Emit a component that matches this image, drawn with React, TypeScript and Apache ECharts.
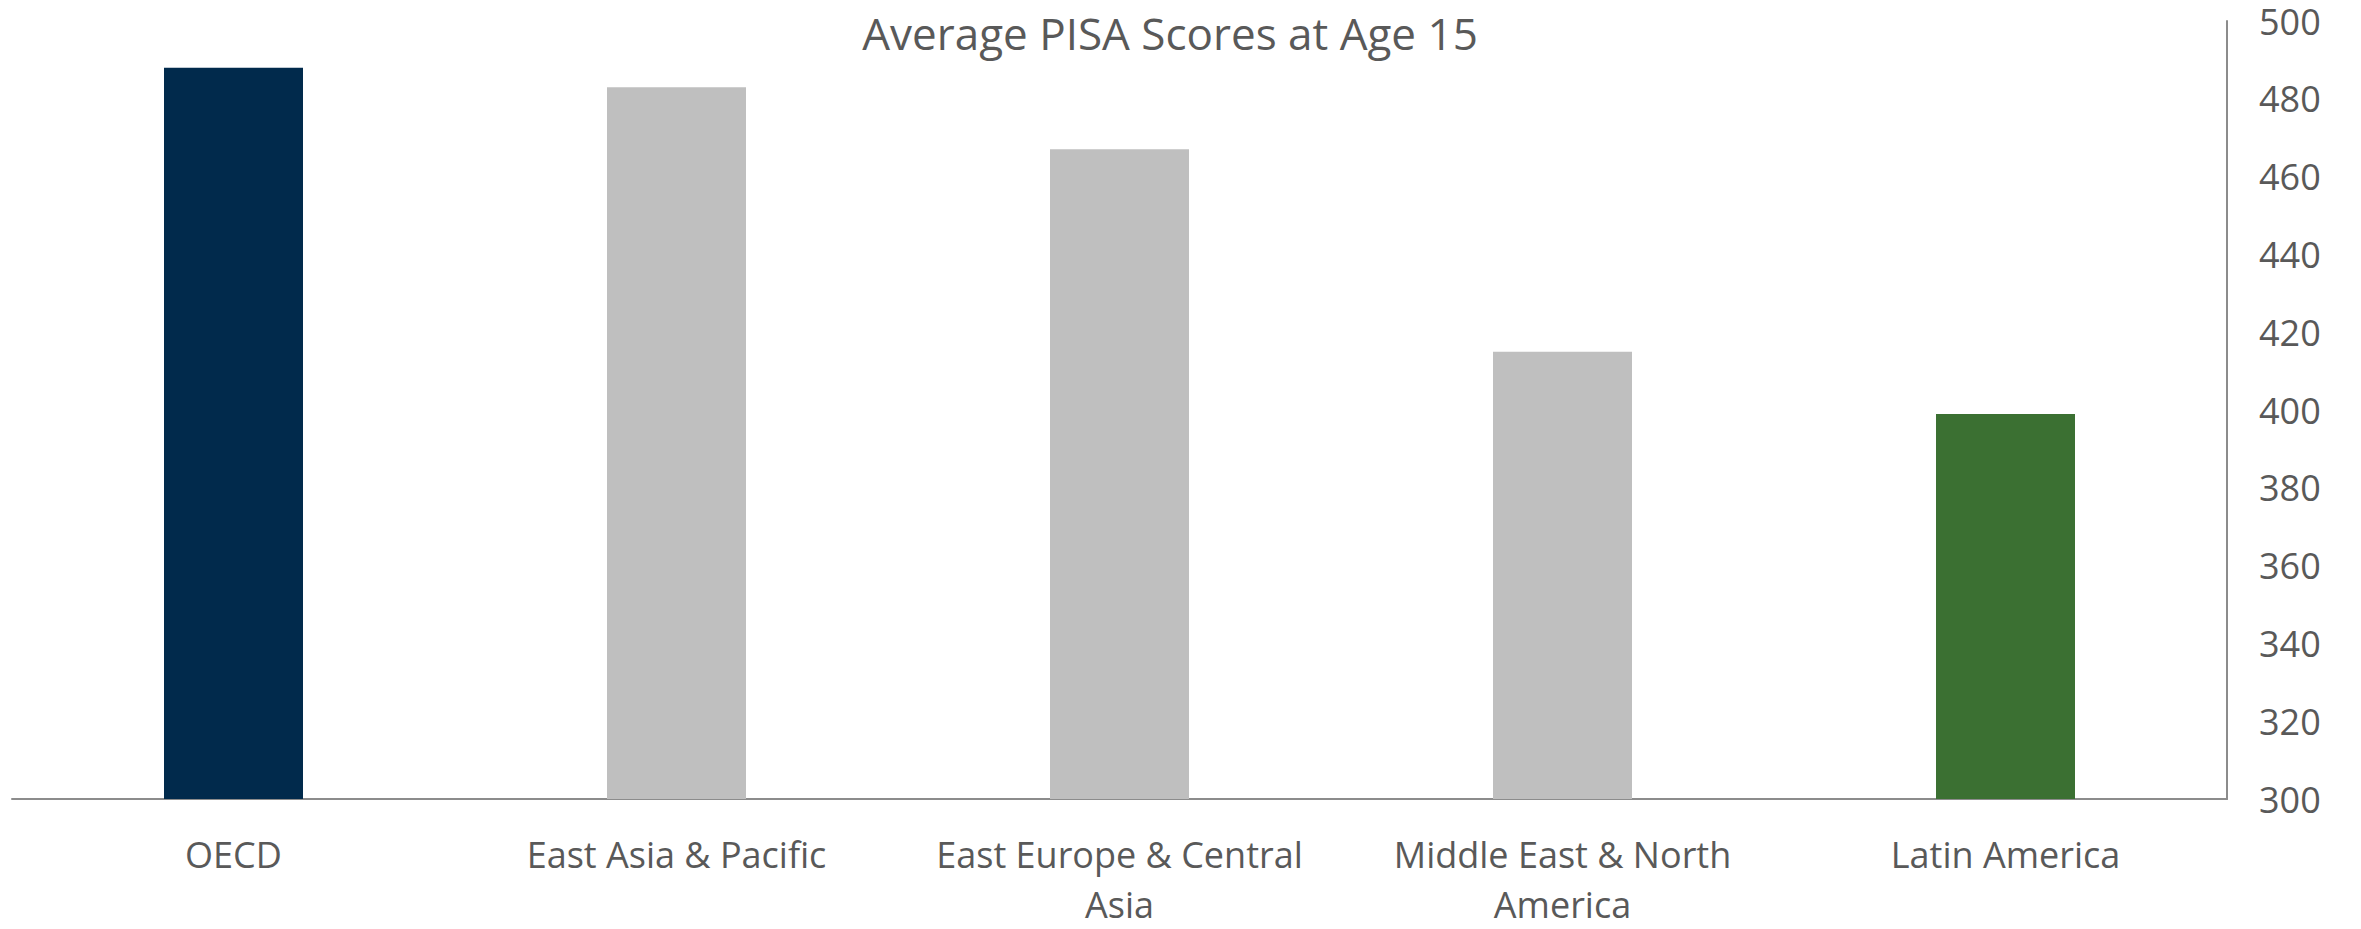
import React, { useEffect, useRef } from "react";
import * as echarts from "echarts";

const categories = [
  "OECD",
  "East Asia & Pacific",
  "East Europe & Central\nAsia",
  "Middle East & North\nAmerica",
  "Latin America",
];
const scores = [488, 483, 467, 415, 399];
const barColors = ["#012A4C", "#BFBFBF", "#BFBFBF", "#BFBFBF", "#3B7032"];
const titleText = "Average PISA Scores at Age 15";

export default function App() {
  const ref = useRef<HTMLDivElement>(null);
  useEffect(() => {
    if (!ref.current) return;
    const chart = echarts.init(ref.current, null, { renderer: "svg" });
    const font = "'Open Sans', sans-serif";
    chart.setOption({
      animation: false,
      backgroundColor: "#ffffff",
      title: {
        text: titleText,
        left: 1165,
        textAlign: "center",
        top: 6,
        textStyle: { fontFamily: font, fontSize: 44, fontWeight: "normal", color: "#595959" },
      },
      grid: { left: 12, right: 134, top: 21, bottom: 123, containLabel: false },
      xAxis: {
        type: "category",
        data: categories,
        axisLine: { show: true, lineStyle: { color: "#8C8C8C", width: 2 } },
        axisTick: { show: false },
        axisLabel: {
          margin: 30,
          fontFamily: font,
          fontSize: 36,
          color: "#595959",
          lineHeight: 50,
          interval: 0,
        },
      },
      yAxis: {
        type: "value",
        position: "right",
        min: 300,
        max: 500,
        interval: 20,
        axisLine: { show: true, lineStyle: { color: "#8C8C8C", width: 2 } },
        axisTick: { show: false },
        splitLine: { show: false },
        axisLabel: {
          margin: 32,
          fontFamily: font,
          fontSize: 36,
          color: "#595959",
        },
      },
      series: [
        {
          type: "bar",
          barWidth: 139,
          data: scores.map((v, i) => ({ value: v, itemStyle: { color: barColors[i] } })),
        },
      ],
    });
    return () => chart.dispose();
  }, []);
  return (
    <div
      ref={ref}
      style={{ position: "fixed", left: 0, top: 0, width: 2361, height: 929 }}
    />
  );
}
